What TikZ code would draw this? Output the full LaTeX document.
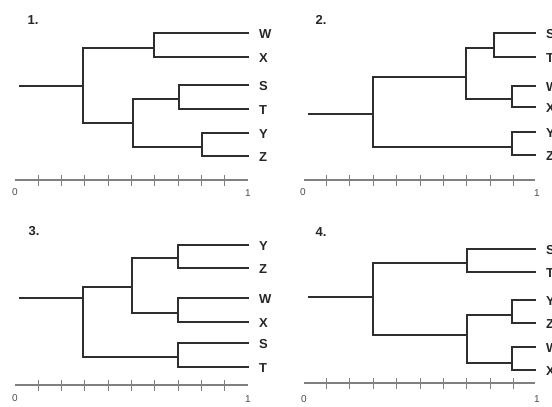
\documentclass[tikz,border=0pt]{standalone}
\usepackage{fontspec}
\setmainfont{Liberation Sans}
\usetikzlibrary{calc}
\begin{document}
\begin{tikzpicture}[x=1pt,y=-1pt,
  br/.style={draw=black!82,line width=1.6pt,line cap=rect},
  ax/.style={draw=black!50,line width=1.1pt},
  tk/.style={draw=black!50,line width=0.9pt},
  lab/.style={anchor=west,font=\bfseries\fontsize{13}{13}\selectfont,text=black!85,inner sep=0pt},
  num/.style={font=\fontsize{10}{10}\selectfont,text=black!70,inner sep=0pt},
  ttl/.style={font=\bfseries\fontsize{13}{13}\selectfont,text=black!85,inner sep=0pt}]
\useasboundingbox (0,0) rectangle (552,407);

% ---------- Panel 1 ----------
\node[ttl] (t1) at (33,20) {1.};
\coordinate (p1s) at (20,86);
\coordinate (p1r) at (83,86);
\coordinate (p1a) at (154,48);
\coordinate (p1b) at (133,123);
\coordinate (p1c) at (179,99);
\coordinate (p1d) at (202,147);
\coordinate (p1W) at (248,33);
\coordinate (p1X) at (248,57);
\coordinate (p1S) at (248,85);
\coordinate (p1T) at (248,109);
\coordinate (p1Y) at (248,133);
\coordinate (p1Z) at (248,156);
\draw[br] (p1s) -- (p1r);
\draw[br] (p1r) |- (p1a); \draw[br] (p1r) |- (p1b);
\draw[br] (p1a) |- (p1W); \draw[br] (p1a) |- (p1X);
\draw[br] (p1b) |- (p1c); \draw[br] (p1b) |- (p1d);
\draw[br] (p1c) |- (p1S); \draw[br] (p1c) |- (p1T);
\draw[br] (p1d) |- (p1Y); \draw[br] (p1d) |- (p1Z);
\node[lab] (l1W) at (259,34) {W};
\node[lab] (l1X) at (259,58) {X};
\node[lab] (l1S) at (259,86) {S};
\node[lab] (l1T) at (259,110) {T};
\node[lab] (l1Y) at (259,134) {Y};
\node[lab] (l1Z) at (259,157) {Z};
\coordinate (a1l) at (15,180); \coordinate (a1r) at (248,180);
\draw[ax] (a1l) -- (a1r);
\foreach \k in {1,...,9}{\draw[tk] ($(a1l)+(23.3*\k,-5)$) -- ++(0,11);}
\node[num] (z1) at (15,192) {0};
\node[num] (o1) at (248,193) {1};

% ---------- Panel 2 ----------
\node[ttl] (t2) at (321,20) {2.};
\coordinate (p2s) at (309,114);
\coordinate (p2r) at (373,114);
\coordinate (p2u) at (466,77);
\coordinate (p2st) at (494,48);
\coordinate (p2wx) at (512,99);
\coordinate (p2yz) at (512,147);
\coordinate (p2S) at (535,33);
\coordinate (p2T) at (535,57);
\coordinate (p2W) at (535,86);
\coordinate (p2X) at (535,107);
\coordinate (p2Y) at (535,132);
\coordinate (p2Z) at (535,155);
\draw[br] (p2s) -- (p2r);
\draw[br] (p2r) |- (p2u); \draw[br] (p2r) |- (p2yz);
\draw[br] (p2u) |- (p2st); \draw[br] (p2u) |- (p2wx);
\draw[br] (p2st) |- (p2S); \draw[br] (p2st) |- (p2T);
\draw[br] (p2wx) |- (p2W); \draw[br] (p2wx) |- (p2X);
\draw[br] (p2yz) |- (p2Y); \draw[br] (p2yz) |- (p2Z);
\node[lab] (l2S) at (546,34) {S};
\node[lab] (l2T) at (546,58) {T};
\node[lab] (l2W) at (546,87) {W};
\node[lab] (l2X) at (546,108) {X};
\node[lab] (l2Y) at (546,133) {Y};
\node[lab] (l2Z) at (546,156) {Z};
\coordinate (a2l) at (304,180); \coordinate (a2r) at (535,180);
\draw[ax] (a2l) -- (a2r);
\foreach \k in {1,...,9}{\draw[tk] ($(303,180)+(23.4*\k,-5)$) -- ++(0,11);}
\node[num] (z2) at (303,192) {0};
\node[num] (o2) at (537,193) {1};

% ---------- Panel 3 ----------
\node[ttl] (t3) at (34,231) {3.};
\coordinate (p3s) at (20,298);
\coordinate (p3r) at (83,298);
\coordinate (p3u) at (132,287);
\coordinate (p3yz) at (178,258);
\coordinate (p3wx) at (178,313);
\coordinate (p3st) at (178,357);
\coordinate (p3Y) at (248,245);
\coordinate (p3Z) at (248,268);
\coordinate (p3W) at (248,298);
\coordinate (p3X) at (248,322);
\coordinate (p3S) at (248,343);
\coordinate (p3T) at (248,367);
\draw[br] (p3s) -- (p3r);
\draw[br] (p3r) |- (p3u); \draw[br] (p3r) |- (p3st);
\draw[br] (p3u) |- (p3yz); \draw[br] (p3u) |- (p3wx);
\draw[br] (p3yz) |- (p3Y); \draw[br] (p3yz) |- (p3Z);
\draw[br] (p3wx) |- (p3W); \draw[br] (p3wx) |- (p3X);
\draw[br] (p3st) |- (p3S); \draw[br] (p3st) |- (p3T);
\node[lab] (l3Y) at (259,246) {Y};
\node[lab] (l3Z) at (259,269) {Z};
\node[lab] (l3W) at (259,299) {W};
\node[lab] (l3X) at (259,323) {X};
\node[lab] (l3S) at (259,344) {S};
\node[lab] (l3T) at (259,368) {T};
\coordinate (a3l) at (15,385); \coordinate (a3r) at (248,385);
\draw[ax] (a3l) -- (a3r);
\foreach \k in {1,...,9}{\draw[tk] ($(a3l)+(23.3*\k,-5)$) -- ++(0,11);}
\node[num] (z3) at (15,398) {0};
\node[num] (o3) at (248,399) {1};

% ---------- Panel 4 ----------
\node[ttl] (t4) at (321,232) {4.};
\coordinate (p4s) at (309,297);
\coordinate (p4r) at (373,297);
\coordinate (p4st) at (467,263);
\coordinate (p4l) at (467,335);
\coordinate (p4yz) at (512,315);
\coordinate (p4wx) at (512,363);
\coordinate (p4S) at (535,249);
\coordinate (p4T) at (535,272);
\coordinate (p4Y) at (535,300);
\coordinate (p4Z) at (535,323);
\coordinate (p4W) at (535,347);
\coordinate (p4X) at (535,370);
\draw[br] (p4s) -- (p4r);
\draw[br] (p4r) |- (p4st); \draw[br] (p4r) |- (p4l);
\draw[br] (p4st) |- (p4S); \draw[br] (p4st) |- (p4T);
\draw[br] (p4l) |- (p4yz); \draw[br] (p4l) |- (p4wx);
\draw[br] (p4yz) |- (p4Y); \draw[br] (p4yz) |- (p4Z);
\draw[br] (p4wx) |- (p4W); \draw[br] (p4wx) |- (p4X);
\node[lab] (l4S) at (546,250) {S};
\node[lab] (l4T) at (546,273) {T};
\node[lab] (l4Y) at (546,301) {Y};
\node[lab] (l4Z) at (546,324) {Z};
\node[lab] (l4W) at (546,348) {W};
\node[lab] (l4X) at (546,371) {X};
\coordinate (a4l) at (304,383); \coordinate (a4r) at (535,383);
\draw[ax] (a4l) -- (a4r);
\foreach \k in {1,...,9}{\draw[tk] ($(303,383)+(23.4*\k,-5)$) -- ++(0,11);}
\node[num] (z4) at (304,399) {0};
\node[num] (o4) at (537,399) {1};
\end{tikzpicture}
\end{document}
